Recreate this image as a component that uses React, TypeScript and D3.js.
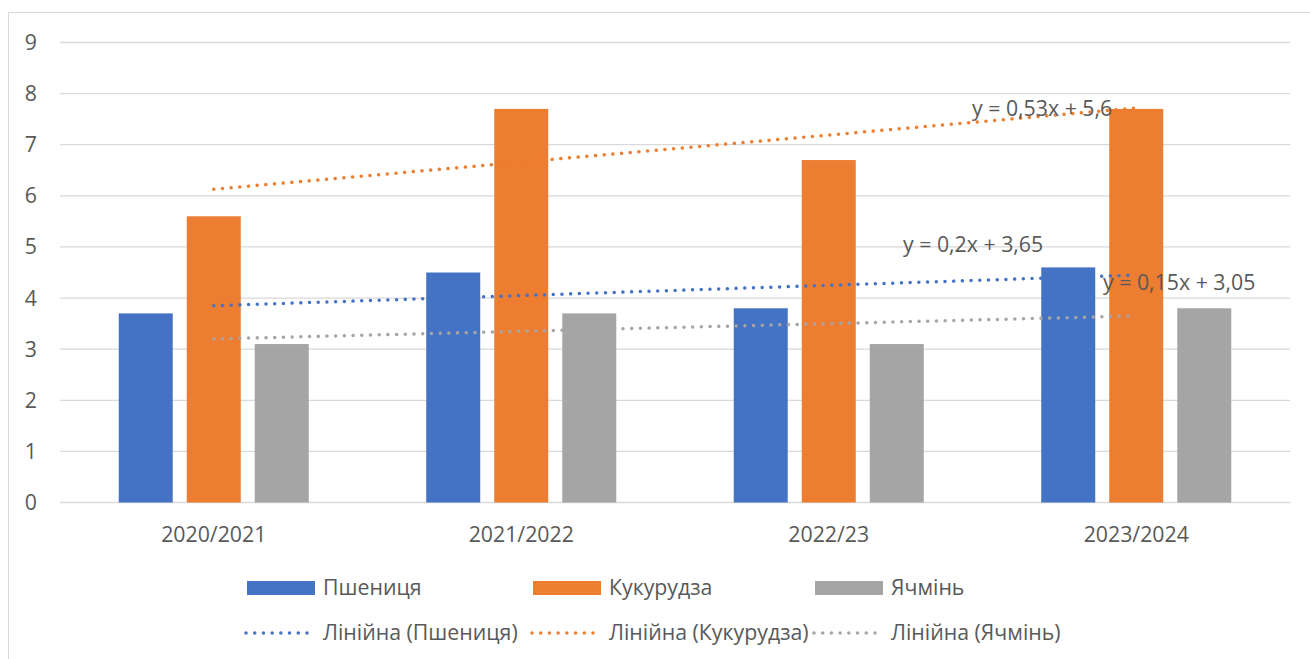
import React from "react";
import * as d3 from "d3";

const categories = ["2020/2021", "2021/2022", "2022/23", "2023/2024"];
const seriesNames = ["Пшениця", "Кукурудза", "Ячмінь"];
const wheat = [3.7, 4.5, 3.8, 4.6];
const corn = [5.6, 7.7, 6.7, 7.7];
const barley = [3.1, 3.7, 3.1, 3.8];
const colors = ["#4472C4", "#ED7D31", "#A5A5A5"];
const trendSlopes = [0.2, 0.53, 0.15];
const trendIntercepts = [3.65, 5.6, 3.05];
const trendLabels = ["y = 0,2x + 3,65", "y = 0,53x + 5,6", "y = 0,15x + 3,05"];
const legendTrendNames = ["Лінійна (Пшениця)", "Лінійна (Кукурудза)", "Лінійна (Ячмінь)"];
const yTicks = [0, 1, 2, 3, 4, 5, 6, 7, 8, 9];

const FONT = "'Open Sans', sans-serif";
const TEXT = "#595959";
const FS = 21.3;

export default function App() {
  const values = [wheat, corn, barley];
  const x = d3.scaleBand<string>().domain(categories).range([60, 1290]).paddingInner(0.382).paddingOuter(0.191);
  const xs = d3.scaleBand<string>().domain(seriesNames).range([0, x.bandwidth()]).paddingInner(0.206);
  const y = d3.scaleLinear().domain([0, 9]).range([502.5, 42.5]);
  const cx = (i: number) => (x(categories[i]) as number) + x.bandwidth() / 2;
  const line = d3.line<number>().x((_, i) => cx(i)).y((v) => y(v));

  const labelPos = [
    { x: 903, y: 252 },
    { x: 972, y: 116 },
    { x: 1103, y: 290 },
  ];
  const legendX = [247, 533, 815];
  const dash = "0.01 8.7";

  return (
    <svg width={1310} height={659} style={{ position: "absolute", left: 0, top: 0 }} fontFamily={FONT}>
      <rect x={0} y={0} width={1310} height={659} fill="#fff" />
      <rect x={8.5} y={12.5} width={1400} height={800} fill="none" stroke="#D9D9D9" strokeWidth={1} />
      {yTicks.map((t) => (
        <g key={t}>
          <line x1={60} x2={1290} y1={y(t)} y2={y(t)} stroke="#D9D9D9" strokeWidth={1.3} />
          <text x={37} y={y(t)} dy="0.35em" textAnchor="end" fontSize={FS} fill={TEXT}>{t}</text>
        </g>
      ))}
      {categories.map((c, i) => (
        <g key={c}>
          {seriesNames.map((s, k) => (
            <rect key={s} x={(x(c) as number) + (xs(s) as number)} width={xs.bandwidth()} y={y(values[k][i])} height={y(0) - y(values[k][i])} fill={colors[k]} />
          ))}
          <text x={cx(i)} y={535} dy="0.35em" textAnchor="middle" fontSize={FS} fill={TEXT}>{c}</text>
        </g>
      ))}
      {seriesNames.map((s, k) => {
        const tv = categories.map((_, i) => trendSlopes[k] * (i + 1) + trendIntercepts[k]);
        return (
          <path key={s} d={line(tv) as string} fill="none" stroke={colors[k]} strokeWidth={3.5} strokeLinecap="round" strokeDasharray={dash} />
        );
      })}
      {trendLabels.map((l, k) => (
        <text key={l} x={labelPos[k].x} y={labelPos[k].y} fontSize={FS} fill={TEXT}>{l}</text>
      ))}
      {seriesNames.map((s, k) => (
        <g key={s}>
          <rect x={legendX[k]} y={581} width={68} height={14} fill={colors[k]} />
          <text x={legendX[k] + 76} y={588} dy="0.35em" fontSize={FS} fill={TEXT}>{s}</text>
          <line x1={legendX[k] - 1} x2={legendX[k] + 62} y1={633} y2={633} stroke={colors[k]} strokeWidth={3.5} strokeLinecap="round" strokeDasharray={dash} />
          <text x={legendX[k] + 76} y={633} dy="0.35em" fontSize={FS} fill={TEXT}>{legendTrendNames[k]}</text>
        </g>
      ))}
    </svg>
  );
}
